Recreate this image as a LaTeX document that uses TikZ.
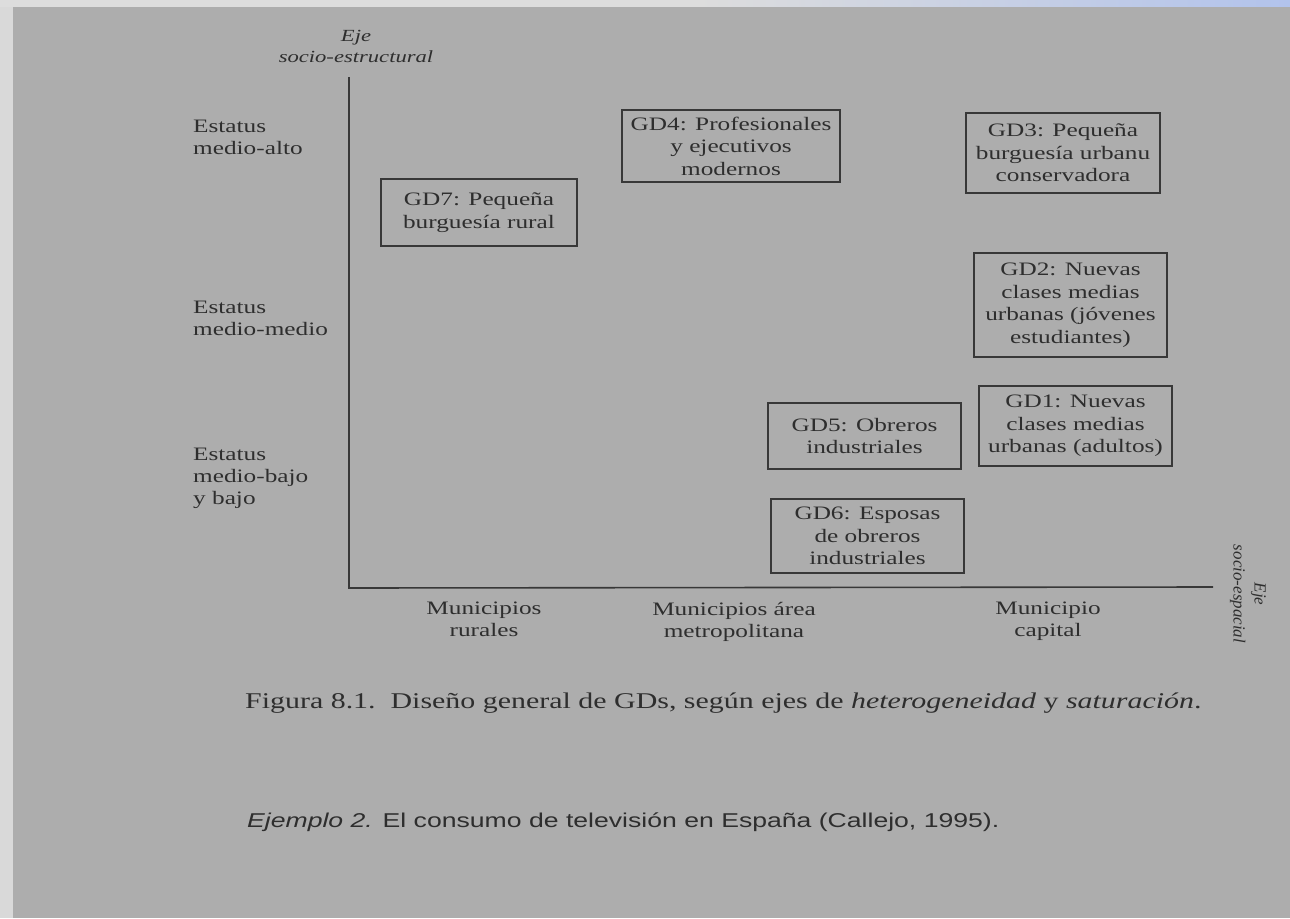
\documentclass[tikz,border=0pt]{standalone}
\usepackage{fontspec}
\setmainfont{Liberation Serif}[FakeStretch=1.33]
\newfontfamily\plainserif{Liberation Serif}
\newfontfamily\ejsans{Liberation Sans}[FakeStretch=1.33]
\definecolor{pagebg}{HTML}{ADADAD}
\definecolor{stripbg}{HTML}{D9D9D9}
\definecolor{topblue}{HTML}{B2C3EC}
\definecolor{txt}{HTML}{2E2E2E}
\definecolor{ln}{HTML}{383838}
\tikzset{
  lbl/.style={font=\fontsize{19}{22}\selectfont, text=txt, inner sep=0pt},
  axlbl/.style={font=\fontsize{17}{21}\selectfont\itshape, text=txt, inner sep=0pt, align=center},
  gdbox/.style={draw=ln, line width=1.5pt, font=\fontsize{19}{22.5}\selectfont, text=txt,
                inner sep=0pt, align=center},
  axisline/.style={draw=ln, line width=1.6pt},
}
\begin{document}
\begin{tikzpicture}[x=1pt,y=-1pt]
\useasboundingbox (0,0) rectangle (1290,918);
% background
\fill[stripbg] (0,0) rectangle (1290,918);
\fill[stripbg!90!white] (0,0) rectangle (700,7);
\shade[left color=stripbg!90!white, right color=topblue] (700,0) rectangle (1290,7);
\fill[pagebg] (13,7) rectangle (1290,918);

% axes
\coordinate (ytop) at (349,77);
\coordinate (orig) at (349,588);
\coordinate (xend) at (1213,587);
\draw[axisline] (ytop) -- (orig) -- (xend);

% axis titles
\node[axlbl] (yax) at (356,46) {Eje\\socio-estructural};
\node[axlbl, font=\fontsize{17}{21}\selectfont\plainserif\itshape, rotate=-90] (xax) at (1248,594) {Eje\\socio-espacial};

% y category labels
\node[lbl, align=left, anchor=north west] (s1) at (193,120) {Estatus\\medio-alto};
\node[lbl, align=left, anchor=north west] (s2) at (193,301) {Estatus\\medio-medio};
\node[lbl, align=left, anchor=north west] (s3) at (193,448) {Estatus\\medio-bajo\\y bajo};

% x category labels
\node[lbl, align=center, anchor=north] (m1) at (484,602) {Municipios\\rurales};
\node[lbl, align=center, anchor=north] (m2) at (734,602) {Municipios área\\metropolitana};
\node[lbl, align=center, anchor=north] (m3) at (1048,602) {Municipio\\capital};

% group boxes
\node[gdbox, minimum width=196pt, minimum height=67pt] (gd7) at (479,212.5) {GD7: Pequeña\\burguesía rural};
\node[gdbox, minimum width=218pt, minimum height=72pt] (gd4) at (731,146) {GD4: Profesionales\\y ejecutivos\\modernos};
\node[gdbox, minimum width=194pt, minimum height=80pt] (gd3) at (1063,153) {GD3: Pequeña\\burguesía urbanu\\conservadora};
\node[gdbox, minimum width=193pt, minimum height=104pt] (gd2) at (1070.5,305) {GD2: Nuevas\\clases medias\\urbanas (jóvenes\\estudiantes)};
\node[gdbox, minimum width=193pt, minimum height=80pt] (gd1) at (1075.5,426) {GD1: Nuevas\\clases medias\\urbanas (adultos)};
\node[gdbox, minimum width=193pt, minimum height=66pt] (gd5) at (864.5,436) {GD5: Obreros\\industriales};
\node[gdbox, minimum width=193pt, minimum height=74pt] (gd6) at (867.5,536) {GD6: Esposas\\de obreros\\industriales};

% captions
\node[font=\fontsize{22.5}{26}\selectfont, text=txt, inner sep=0pt, anchor=west] (cap) at (245,703)
  {Figura 8.1.\ \ Diseño general de GDs, según ejes de \textit{heterogeneidad} y \textit{saturación}.};
\node[font=\fontsize{20}{24}\selectfont\ejsans, text=txt, inner sep=0pt, anchor=west] (ej) at (247,822)
  {\textit{Ejemplo 2.} El consumo de televisión en España (Callejo, 1995).};
\end{tikzpicture}
\end{document}
